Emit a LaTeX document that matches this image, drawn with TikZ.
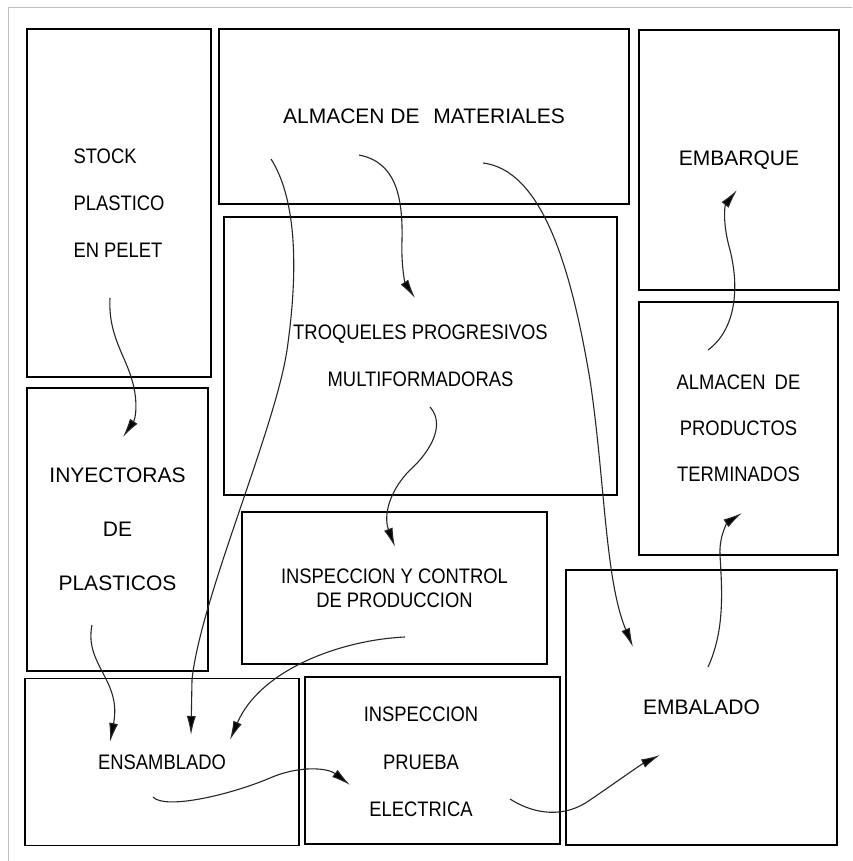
\documentclass[tikz,border=0pt]{standalone}
\usepackage{fontspec}
\setmainfont{Liberation Sans}
\newfontfamily\nfont{Liberation Sans}[FakeStretch=0.876]
\usetikzlibrary{arrows.meta}
\begin{document}
\begin{tikzpicture}[x=1pt,y=-1pt,
  box/.style={draw=black,line width=1.2pt,inner sep=0pt,anchor=center},
  wide/.style={font={\fontsize{21}{#1}\selectfont}},
  narrow/.style={font={\nfont\fontsize{21}{#1}\selectfont}},
  flow/.style={line width=1.1pt,draw=black!85,-{Latex[length=19pt,width=9pt,fill=black]}},
]
\useasboundingbox (0,0) rectangle (852,861);
\fill[white] (0,0) rectangle (852,861);
\draw[black!25,line width=0.8pt] (8,861) -- (8,7) -- (852,7);

% boxes
\node[box,minimum width=184pt,minimum height=348pt,narrow=47pt,align=left] (stock) at (119,203) {STOCK\\PLASTICO\\EN PELET};
\node[box,minimum width=410pt,minimum height=175pt,wide=25pt] (matl) at (424,116.5) {ALMACEN DE\hspace{8pt} MATERIALES};
\node[box,minimum width=200pt,minimum height=260pt,wide=25pt] (embq) at (739,160) {EMBARQUE};
\node[box,minimum width=393pt,minimum height=278pt,narrow=47pt,align=center] (troq) at (420.5,356) {TROQUELES PROGRESIVOS\\MULTIFORMADORAS};
\node[box,minimum width=199pt,minimum height=253pt,narrow=46pt,align=center] (apt) at (738.5,428.5) {ALMACEN\hspace{4pt} DE\\PRODUCTOS\\TERMINADOS};
\node[box,minimum width=181pt,minimum height=283pt,wide=54pt,align=center] (iny) at (117.5,529.5) {INYECTORAS\\DE\\PLASTICOS};
\node[box,minimum width=305pt,minimum height=152pt,narrow=24pt,align=center] (insc) at (394.5,588) {INSPECCION Y CONTROL\\DE PRODUCCION};
\node[box,minimum width=271pt,minimum height=275pt,wide=25pt] (emb) at (701.5,707.5) {EMBALADO};
\node[box,minimum width=274pt,minimum height=167pt,narrow=25pt] (ens) at (162,762) {ENSAMBLADO};
\node[box,minimum width=255pt,minimum height=167pt] (insp) at (432.5,760.5) {};
\node[narrow=47.5pt,align=center,inner sep=0pt] (insptxt) at (421,762) {INSPECCION\\PRUEBA\\ELECTRICA};

% connector end points
\coordinate (a1s) at (110,298);  \coordinate (a1e) at (123,437);
\coordinate (a2s) at (271,159);  \coordinate (a2e) at (191,735);
\coordinate (a3s) at (359,155);  \coordinate (a3e) at (415,298);
\coordinate (a4s) at (483,163);  \coordinate (a4e) at (633,647);
\coordinate (a5s) at (430,407);  \coordinate (a5e) at (395,547);
\coordinate (a6s) at (405,637);  \coordinate (a6e) at (230,740);
\coordinate (a7s) at (92,625);   \coordinate (a7e) at (110,742);
\coordinate (a8s) at (153,797);  \coordinate (a8e) at (350,785);
\coordinate (a9s) at (510,799);  \coordinate (a9e) at (660,755);
\coordinate (a10s) at (708,667); \coordinate (a10e) at (742,513);
\coordinate (a11s) at (708,350); \coordinate (a11e) at (737,190);

% connectors
\draw[flow] (a1s) .. controls (108,335) and (125,355) .. (132,380) .. controls (138,400) and (136,418) .. (a1e);
\draw[flow] (a2s) .. controls (294,195) and (300,260) .. (287,350) .. controls (275,430) and (200,600) .. (192,680) -- (a2e);
\draw[flow] (a3s) .. controls (395,162) and (403,195) .. (402,240) .. controls (401,265) and (405,283) .. (a3e);
\draw[flow] (a4s) .. controls (540,170) and (570,260) .. (590,380) .. controls (605,480) and (605,580) .. (a4e);
\draw[flow] (a5s) .. controls (446,425) and (430,452) .. (410,470) .. controls (390,490) and (383,515) .. (a5e);
\draw[flow] (a6s) .. controls (340,640) and (260,670) .. (a6e);
\draw[flow] (a7s) .. controls (84,665) and (122,680) .. (a7e);
\draw[flow] (a8s) .. controls (165,810) and (230,795) .. (270,778) .. controls (300,765) and (328,768) .. (a8e);
\draw[flow] (a9s) .. controls (535,815) and (565,818) .. (590,800) .. controls (615,783) and (640,765) .. (a9e);
\draw[flow] (a10s) .. controls (725,630) and (722,590) .. (720,555) .. controls (719,535) and (728,522) .. (a10e);
\draw[flow] (a11s) .. controls (735,330) and (740,290) .. (730,250) .. controls (722,222) and (725,205) .. (a11e);
\end{tikzpicture}
\end{document}
